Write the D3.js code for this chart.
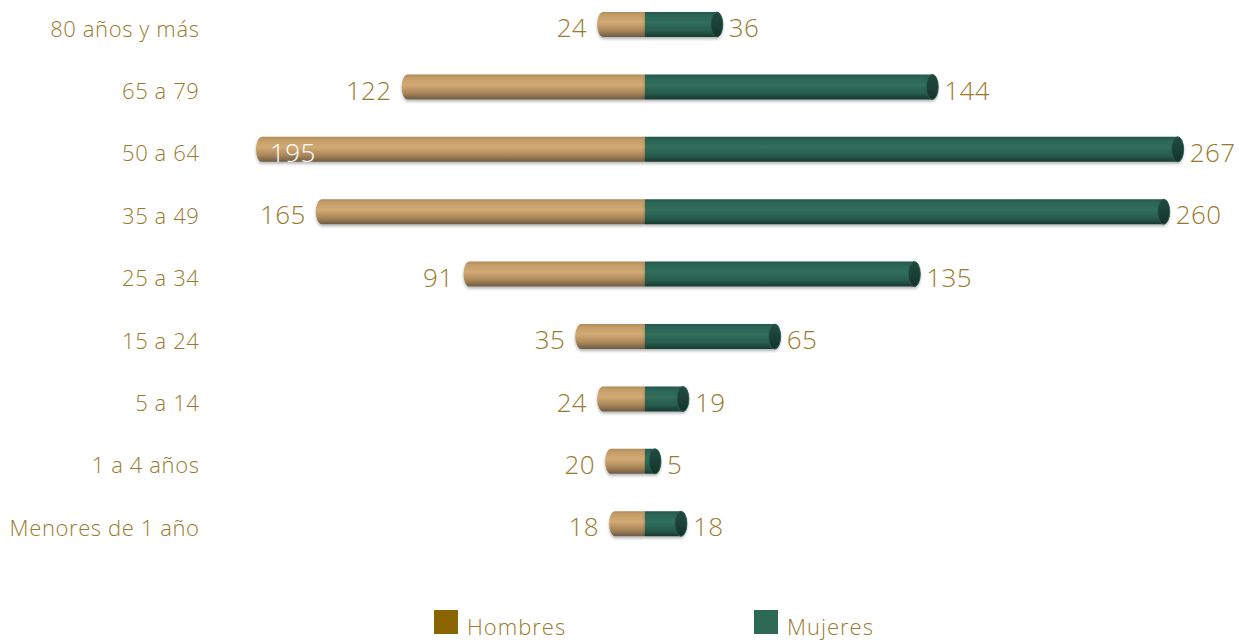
<!DOCTYPE html>
<html>
<head>
<meta charset="utf-8">
<script src="https://cdn.jsdelivr.net/npm/d3@7"></script>
<style>
  html, body { margin: 0; padding: 0; background: #ffffff; }
  svg { display: block; }
  text { font-family: "Open Sans", "Noto Sans", sans-serif; font-weight: 300; }
</style>
</head>
<body>
<svg id="chart" width="1239" height="642"></svg>
<script>
// Grupos de edad, de mayor a menor
const categories = ["80 años y más", "65 a 79", "50 a 64", "35 a 49", "25 a 34", "15 a 24", "5 a 14", "1 a 4 años", "Menores de 1 año"];
const hombres = [24, 122, 195, 165, 91, 35, 24, 20, 18];
const mujeres = [36, 144, 267, 260, 135, 65, 19, 5, 18];
const seriesNames = ["Hombres", "Mujeres"];

const W = 1239, H = 642;
const centerX = 645;
const unit = 1.995;           // píxeles por unidad
const barH = 25;
const capRx = 6;
const textColor = "#9a7a2c";

const svg = d3.select("#chart");
const defs = svg.append("defs");

function vGrad(id, stops) {
  const g = defs.append("linearGradient").attr("id", id)
    .attr("x1", 0).attr("y1", 0).attr("x2", 0).attr("y2", 1);
  stops.forEach(([o, c]) => g.append("stop").attr("offset", o).attr("stop-color", c));
}
vGrad("gradH", [[0, "#b08a58"], [0.12, "#c49c68"], [0.42, "#d2aa74"], [0.75, "#a98558"], [1, "#6b5b45"]]);
vGrad("gradM", [[0, "#24574a"], [0.12, "#2b6453"], [0.42, "#316f5c"], [0.75, "#285c4c"], [1, "#173a31"]]);
vGrad("gradCap", [[0, "#1f4a3e"], [0.5, "#1b4136"], [1, "#13322a"]]);

const shadow = defs.append("filter").attr("id", "shadow")
  .attr("x", "-5%").attr("y", "-40%").attr("width", "110%").attr("height", "180%");
shadow.append("feGaussianBlur").attr("in", "SourceAlpha").attr("stdDeviation", 1.5);
shadow.append("feOffset").attr("dy", 1.5).attr("result", "b");
shadow.append("feComponentTransfer").append("feFuncA").attr("type", "linear").attr("slope", 0.3);
const fm = shadow.append("feMerge");
fm.append("feMergeNode");
fm.append("feMergeNode").attr("in", "SourceGraphic");

const y = d3.scalePoint().domain(categories).range([24.5, 523.7]);
const xL = d3.scaleLinear().domain([0, 300]).range([centerX, centerX - 300 * unit]);
const xR = d3.scaleLinear().domain([0, 300]).range([centerX, centerX + 300 * unit]);

// Eje de categorías
const axis = d3.axisLeft(y).tickSize(0).tickPadding(0);
const axisG = svg.append("g").attr("transform", "translate(199.5,4.5)").call(axis);
axisG.select(".domain").remove();
axisG.selectAll("text")
  .attr("fill", textColor).style("font-size", "22px")
  .style("letter-spacing", "0.6px")
  .style("font-family", "'Open Sans', sans-serif").style("font-weight", 300);

const rows = svg.append("g").selectAll("g").data(categories).join("g")
  .attr("transform", d => `translate(0,${y(d) - barH / 2})`);

// Cilindro de hombres (izquierda)
rows.append("path")
  .attr("filter", "url(#shadow)")
  .attr("fill", "url(#gradH)")
  .attr("d", (d, i) => {
    const x0 = xL(hombres[i]) + capRx;
    return `M${centerX},0 L${x0},0 A${capRx},${barH / 2} 0 0 0 ${x0},${barH} L${centerX},${barH} Z`;
  });

// Cilindro de mujeres (derecha)
rows.append("path")
  .attr("filter", "url(#shadow)")
  .attr("fill", "url(#gradM)")
  .attr("d", (d, i) => {
    const x1 = xR(mujeres[i]);
    return `M${centerX},0 L${x1},0 A${capRx},${barH / 2} 0 0 1 ${x1},${barH} L${centerX},${barH} Z`;
  });
rows.append("ellipse")
  .attr("cx", (d, i) => xR(mujeres[i]))
  .attr("cy", barH / 2)
  .attr("rx", capRx).attr("ry", barH / 2)
  .attr("fill", "url(#gradCap)")
  .attr("stroke", "#2c5f50").attr("stroke-width", 0.8);

// Etiquetas de valor
rows.append("text")
  .attr("x", (d, i) => hombres[i] > 180 ? xL(hombres[i]) + 14 : xL(hombres[i]) - 10)
  .attr("y", barH / 2 + 3.5)
  .attr("dy", "0.35em")
  .attr("text-anchor", (d, i) => hombres[i] > 180 ? "start" : "end")
  .attr("fill", (d, i) => hombres[i] > 180 ? "#ffffff" : textColor)
  .style("font-size", "26px")
  .style("letter-spacing", "0.4px")
  .text((d, i) => hombres[i]);

rows.append("text")
  .attr("x", (d, i) => xR(mujeres[i]) + capRx + 6)
  .attr("y", barH / 2 + 3.5)
  .attr("dy", "0.35em")
  .attr("fill", textColor)
  .style("font-size", "26px")
  .style("letter-spacing", "0.4px")
  .text((d, i) => mujeres[i]);

// Leyenda
const legendColors = ["#8a6400", "#2e6956"];
const legendX = [434, 754];
const leg = svg.append("g").selectAll("g").data(seriesNames).join("g")
  .attr("transform", (d, i) => `translate(${legendX[i]},610)`);
leg.append("rect").attr("width", 24).attr("height", 24).attr("fill", (d, i) => legendColors[i]);
leg.append("text").attr("x", 33).attr("y", 25)
  .attr("fill", textColor).style("font-size", "22px")
  .style("letter-spacing", "1px").text(d => d);
</script>
</body>
</html>
